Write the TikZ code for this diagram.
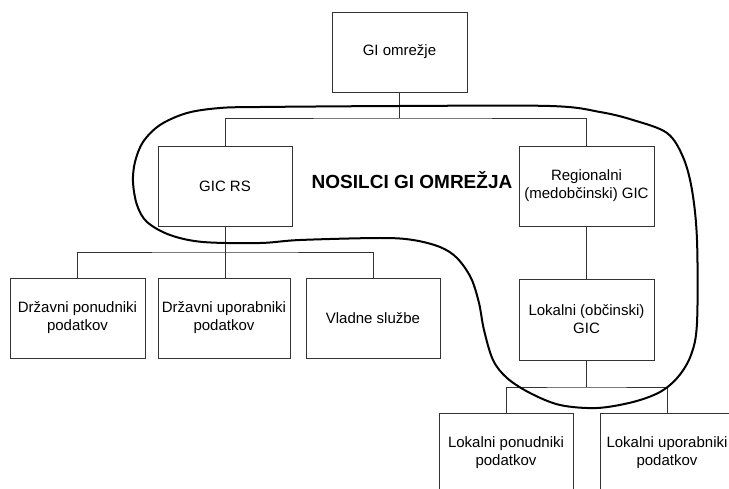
\documentclass[tikz,border=0pt]{standalone}
\usepackage{fontspec}
\setmainfont{Liberation Sans}
\begin{document}
\begin{tikzpicture}[x=1pt,y=-1pt,
  box/.style={draw=black!80,line width=0.8pt,fill=white,minimum width=134pt,minimum height=80pt,inner sep=0pt,align=center,font=\fontsize{15}{18}\selectfont},
  link/.style={draw=black!80,line width=0.8pt},
  blob/.style={draw=black,line width=2pt}]
\useasboundingbox (0,0) rectangle (729,489);
\clip (0,0) rectangle (729,489);
\fill[white] (0,0) rectangle (729,489);
% nodes
\node[box,minimum width=135pt] (top) at (399.5,52) {GI omrežje};
\node[box] (gicrs) at (225,186) {GIC RS};
\node[box,minimum width=135pt] (reg) at (586.5,186) {Regionalni\\(medobčinski) GIC};
\node[box,minimum width=135pt,minimum height=81pt] (lok) at (586.5,319.5) {Lokalni (občinski)\\GIC};
\node[box,minimum width=135pt] (dp) at (77.5,318) {Državni ponudniki\\podatkov};
\node[box,minimum width=132pt] (du) at (224,318) {Državni uporabniki\\podatkov};
\node[box] (vs) at (373,318) {Vladne službe};
\node[box] (lp) at (506,453) {Lokalni ponudniki\\podatkov};
\node[box] (lu) at (667,453) {Lokalni uporabniki\\podatkov};
\node[font=\bfseries\fontsize{19}{22}\selectfont] (title) at (412,180) {NOSILCI GI OMREŽJA};
% bus coordinates
\coordinate (b1) at (399.5,118);
\coordinate (b2) at (225,252);
\coordinate (b3) at (586.5,387);
% connectors
\draw[link] (top.south) -- (b1);
\draw[link] (gicrs.north) |- (b1) -| (reg.north);
\draw[link] (gicrs.south) -- (gicrs.south |- du.north);
\draw[link] (dp.north) |- (b2) -| (vs.north);
\draw[link] (reg.south) -- (lok.north);
\draw[link] (lok.south) -- (b3);
\draw[link] (lp.north) |- (b3) -| (lu.north);
% enclosing outline
\draw[blob] plot[smooth cycle,tension=0.55] coordinates {
 (260,107) (400,106) (550,106) (600,112) (633,120) (667,133) (683,157) (692,190)
 (697,240) (697,323) (691,355) (678,377) (660,392) (633,402) (597,408) (560,405)
 (530,393) (507,378) (493,360) (484,330) (479,303) (471,278) (457,258) (440,247)
 (413,240) (380,238) (300,240) (260,243) (203,242) (170,235) (147,222) (137,205)
 (133,182) (135,162) (143,142) (160,125) (187,113) (220,108)};
\end{tikzpicture}
\end{document}
